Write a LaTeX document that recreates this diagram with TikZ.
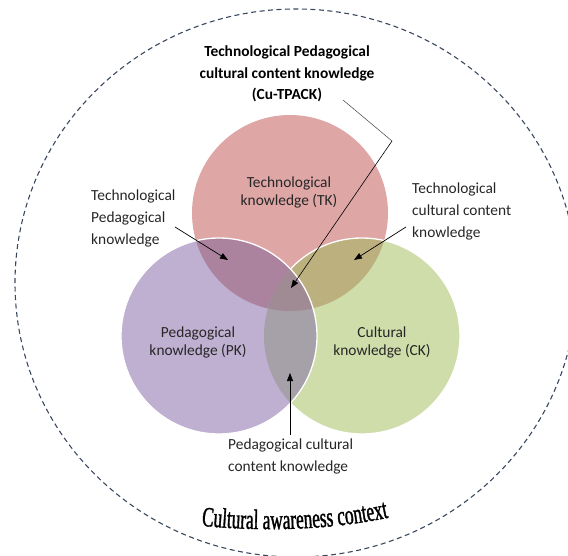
\documentclass[tikz,border=0pt]{standalone}
\usepackage{fontspec}
\setmainfont{Carlito}
\newfontfamily\condtimes[FakeStretch=0.62,FakeBold=1.2]{Liberation Serif}
\usetikzlibrary{arrows.meta,decorations.text}
\definecolor{tkc}{RGB}{223,166,166}
\definecolor{pkc}{RGB}{191,176,209}
\definecolor{ckc}{RGB}{207,221,171}
\definecolor{tpc}{RGB}{172,131,158}
\definecolor{tcc}{RGB}{188,176,127}
\definecolor{pcc}{RGB}{166,160,168}
\definecolor{allc}{RGB}{160,139,148}
\definecolor{dashc}{RGB}{58,72,94}
\definecolor{txt}{RGB}{38,38,38}
\begin{document}
\begin{tikzpicture}[x=1pt,y=-1pt,
  lbl/.style={font=\fontsize{15.4}{22}\selectfont, text=txt, inner sep=0pt, align=left, anchor=west},
  clbl/.style={font=\fontsize{15.4}{17.5}\selectfont, text=txt, inner sep=0pt, align=center},
  ptr/.style={draw=black, line width=0.7pt, -{Triangle[length=8pt,width=6pt]}},
  leader/.style={draw=black!75, line width=0.5pt},
  rim/.style={draw=white, line width=1.3pt},
  outer/.style={draw=dashc, line width=1.1pt, dash pattern=on 5pt off 3.5pt}]
\useasboundingbox (0,0) rectangle (568,556);
\coordinate (ctk) at (290,213);
\coordinate (cpk) at (219,336);
\coordinate (cck) at (362,336);
\def\rr{98pt}
% outer context
\draw[outer] (296,283) ellipse [x radius=281pt, y radius=274pt];
% circles
\fill[tkc] (ctk) circle[radius=\rr];
\fill[ckc] (cck) circle[radius=\rr];
\begin{scope}
  \clip (ctk) circle[radius=\rr];
  \fill[tcc] (cck) circle[radius=\rr];
\end{scope}
\draw[rim] (cck) circle[radius=\rr];
\fill[pkc] (cpk) circle[radius=\rr];
\begin{scope}
  \clip (cpk) circle[radius=\rr];
  \fill[tpc] (ctk) circle[radius=\rr];
  \fill[pcc] (cck) circle[radius=\rr];
  \clip (ctk) circle[radius=\rr];
  \fill[allc] (cck) circle[radius=\rr];
\end{scope}
\draw[rim] (cpk) circle[radius=\rr];
% texts
\node[font=\bfseries\fontsize{15.4}{21.5}\selectfont, inner sep=0pt, align=center, text=black] (title) at (287,74) {Technological Pedagogical\\cultural content knowledge\\(Cu-TPACK)};
\node[clbl] (tk) at (289,192.5) {Technological\\knowledge (TK)};
\node[clbl] (pk) at (198,342.5) {Pedagogical\\knowledge (PK)};
\node[clbl] (ck) at (382,342.5) {Cultural\\knowledge (CK)};
\node[lbl] (tpk) at (91,218.7) {Technological\\Pedagogical\\knowledge};
\node[lbl] (tck) at (412,211.7) {Technological\\cultural content\\knowledge};
\node[lbl] (pcck) at (228,456.5) {Pedagogical cultural\\content knowledge};
\path[decorate, decoration={text along path, text align=center,
  text={|\condtimes\fontsize{28}{28}\selectfont|Cultural awareness context}}]
  (194,525) .. controls (258,532) and (330,531) .. (396,516);
% pointers
\coordinate (cuS) at (343,100);
\coordinate (cuB) at (392,141);
\coordinate (cuT) at (291,288);
\coordinate (tpS) at (175,227);
\coordinate (tpT) at (228,260);
\coordinate (tcS) at (406,227);
\coordinate (tcT) at (354,260);
\coordinate (pcS) at (290,435);
\coordinate (pcT) at (290,373);
\draw[leader] (cuS) -- (cuB);
\draw[ptr, line width=0.6pt] (cuB) -- (cuT);
\draw[ptr] (tpS) -- (tpT);
\draw[ptr] (tcS) -- (tcT);
\draw[ptr] (pcS) -- (pcT);
\end{tikzpicture}
\end{document}
